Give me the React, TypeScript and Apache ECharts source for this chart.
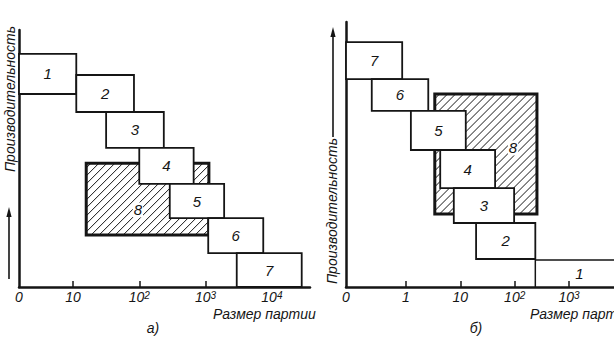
import React, { useEffect, useRef } from "react";
import * as echarts from "echarts";

// ---------- data ----------
// x: position in decades of the batch size (10 -> 1, 10^2 -> 2, ...), y: relative productivity
// Panel а)
const tickPosA = [0.186, 1, 2, 3, 4];
const tickLabelA = ["0", "10", "10{s|2}", "10{s|3}", "10{s|4}"];
const boxNamesA = ["1", "2", "3", "4", "5", "6", "7"];
const boxXA = [
  [0.186, 1.05],
  [1.05, 1.92],
  [1.5, 2.37],
  [2.0, 2.82],
  [2.46, 3.28],
  [3.04, 3.87],
  [3.47, 4.45],
];
const boxYA = [
  [7.51, 9.07],
  [6.81, 8.25],
  [5.41, 6.81],
  [4.01, 5.41],
  [2.68, 4.01],
  [1.32, 2.68],
  [0, 1.32],
];
const zoneXA = [1.2, 3.05];
const zoneYA = [2.02, 4.82];
const zoneLabelA = [1.98, 3.0];

// Panel б)
const tickPosB = [-1.104, 0, 1, 2, 3];
const tickLabelB = ["0", "1", "10", "10{s|2}", "10{s|3}"];
const boxNamesB = ["7", "6", "5", "4", "3", "2"];
const boxXB = [
  [-1.104, -0.07],
  [-0.63, 0.41],
  [0.09, 1.1],
  [0.63, 1.64],
  [0.88, 1.99],
  [1.29, 2.38],
];
const boxYB = [
  [8.09, 9.53],
  [6.85, 8.09],
  [5.33, 6.85],
  [3.85, 5.33],
  [2.49, 3.85],
  [1.09, 2.49],
];
const zoneXB = [0.53, 2.41];
const zoneYB = [2.84, 7.51];
const zoneLabelB = [1.97, 5.41];
const line1X = [2.38, 2.38, 3.83];
const line1Y = [0, 1.05, 1.05];
const line1Label = [3.19, 0.54];

// ---------- styling ----------
const INK = "#151515";
const FONT = "'Liberation Sans', 'DejaVu Sans', sans-serif";

const textStyle = (size: number) => ({
  fill: INK,
  fontSize: size,
  fontStyle: "italic",
  fontFamily: FONT,
  align: "center",
  verticalAlign: "middle",
});

const boxRender = (names: string[]) => (params: any, api: any) => {
  const tl = api.coord([api.value(0), api.value(3)]);
  const br = api.coord([api.value(1), api.value(2)]);
  return {
    type: "group",
    children: [
      {
        type: "rect",
        shape: { x: tl[0], y: tl[1], width: br[0] - tl[0], height: br[1] - tl[1] },
        style: { fill: "#fff", stroke: INK, lineWidth: 1.8 },
      },
      {
        type: "text",
        x: (tl[0] + br[0]) / 2,
        y: (tl[1] + br[1]) / 2,
        style: { text: names[params.dataIndex], ...textStyle(15) },
      },
    ],
  };
};

const zoneRender = (labelPos: number[]) => (params: any, api: any) => {
  const tl = api.coord([api.value(0), api.value(3)]);
  const br = api.coord([api.value(1), api.value(2)]);
  const L = tl[0], T = tl[1], R = br[0], B = br[1];
  const step = 8;
  const lines: any[] = [];
  for (let c = L + T + step * 0.6; c < R + B; c += step) {
    const xs = Math.max(L, c - B);
    const xe = Math.min(R, c - T);
    if (xe <= xs) continue;
    lines.push({
      type: "line",
      shape: { x1: xs, y1: c - xs, x2: xe, y2: c - xe },
      style: { stroke: INK, lineWidth: 1 },
    });
  }
  const lp = api.coord(labelPos);
  return {
    type: "group",
    children: [
      { type: "rect", shape: { x: L, y: T, width: R - L, height: B - T }, style: { fill: "#fff" } },
      ...lines,
      {
        type: "rect",
        shape: { x: L, y: T, width: R - L, height: B - T },
        style: { fill: "none", stroke: INK, lineWidth: 3 },
      },
      {
        type: "text",
        x: lp[0],
        y: lp[1],
        style: { text: "8", ...textStyle(15), backgroundColor: "#fff", padding: [0, 1] },
      },
    ],
  };
};

const makeXAxis = (gridIndex: number, min: number, max: number, pos: number[], labels: string[]) => ({
  type: "value",
  gridIndex,
  min,
  max,
  axisLine: { show: true, onZero: false, lineStyle: { color: INK, width: 2.5 } },
  axisTick: {
    show: true,
    inside: true,
    length: 6,
    customValues: pos.slice(1),
    lineStyle: { color: INK, width: 1.5 },
  },
  axisLabel: {
    customValues: pos,
    margin: 3,
    color: INK,
    fontSize: 14,
    fontStyle: "italic",
    fontFamily: FONT,
    lineHeight: 14,
    rich: {
      s: {
        fontSize: 10,
        fontStyle: "italic",
        fontFamily: FONT,
        color: INK,
        verticalAlign: "top",
        lineHeight: 14,
        padding: [0, 0, 3, 0],
      },
    },
    formatter: (v: number) => {
      const i = pos.findIndex((p) => Math.abs(p - v) < 1e-3);
      return i >= 0 ? labels[i] : "";
    },
  },
  splitLine: { show: false },
});

const makeYAxis = (gridIndex: number, max: number) => ({
  type: "value",
  gridIndex,
  min: 0,
  max,
  axisLine: { show: true, onZero: false, lineStyle: { color: INK, width: 2.5 } },
  axisTick: { show: false },
  axisLabel: { show: false },
  splitLine: { show: false },
});

const plainText = (text: string, x: number, y: number, size: number, align = "left", rotation = 0) => ({
  type: "text",
  x,
  y,
  rotation,
  style: {
    text,
    fill: INK,
    fontSize: size,
    fontStyle: "italic",
    fontFamily: FONT,
    align,
    verticalAlign: "middle",
  },
});

const arrow = (x: number, yBottom: number, yTop: number) => [
  { type: "line", shape: { x1: x, y1: yBottom, x2: x, y2: yTop + 6 }, style: { stroke: INK, lineWidth: 1.6 } },
  {
    type: "polygon",
    shape: { points: [[x, yTop], [x - 2.6, yTop + 10], [x + 2.6, yTop + 10]] },
    style: { fill: INK },
  },
];

export default function App() {
  const ref = useRef<HTMLDivElement>(null);
  useEffect(() => {
    if (!ref.current) return;
    const chart = echarts.init(ref.current, undefined, { renderer: "svg" });
    const zipBoxes = (xs: number[][], ys: number[][]) => xs.map((x, i) => [x[0], x[1], ys[i][0], ys[i][1]]);
    const option: any = {
      animation: false,
      backgroundColor: "#fff",
      grid: [
        { left: 19, top: 30, width: 291, height: 257 },
        { left: 346, top: 22, width: 268, height: 265 },
      ],
      xAxis: [
        makeXAxis(0, 0.186, 4.575, tickPosA, tickLabelA),
        makeXAxis(1, -1.104, 3.828, tickPosB, tickLabelB),
      ],
      yAxis: [makeYAxis(0, 10), makeYAxis(1, 10.31)],
      series: [
        {
          type: "custom",
          xAxisIndex: 0,
          yAxisIndex: 0,
          z: 1,
          renderItem: zoneRender(zoneLabelA),
          encode: { x: [0, 1], y: [2, 3] },
          data: [[zoneXA[0], zoneXA[1], zoneYA[0], zoneYA[1]]],
        },
        {
          type: "custom",
          xAxisIndex: 0,
          yAxisIndex: 0,
          z: 2,
          renderItem: boxRender(boxNamesA),
          encode: { x: [0, 1], y: [2, 3] },
          data: zipBoxes(boxXA, boxYA),
        },
        {
          type: "custom",
          xAxisIndex: 1,
          yAxisIndex: 1,
          z: 1,
          renderItem: zoneRender(zoneLabelB),
          encode: { x: [0, 1], y: [2, 3] },
          data: [[zoneXB[0], zoneXB[1], zoneYB[0], zoneYB[1]]],
        },
        {
          type: "custom",
          xAxisIndex: 1,
          yAxisIndex: 1,
          z: 2,
          renderItem: boxRender(boxNamesB),
          encode: { x: [0, 1], y: [2, 3] },
          data: zipBoxes(boxXB, boxYB),
        },
        {
          type: "line",
          xAxisIndex: 1,
          yAxisIndex: 1,
          z: 3,
          symbol: "none",
          lineStyle: { color: INK, width: 1.5 },
          data: line1X.map((x, i) => [x, line1Y[i]]),
        },
        {
          type: "custom",
          xAxisIndex: 1,
          yAxisIndex: 1,
          z: 3,
          renderItem: (params: any, api: any) => {
            const p = api.coord([api.value(0), api.value(1)]);
            return { type: "text", x: p[0], y: p[1], style: { text: "1", ...textStyle(15) } };
          },
          data: [line1Label],
        },
      ],
      graphic: [
        plainText("Производительность", 10, 99, 14, "center", Math.PI / 2),
        ...arrow(9, 279, 207),
        plainText("Размер партии", 213, 314, 14),
        plainText("а)", 153, 328, 14, "center"),
        plainText("Производительность", 332, 211, 14, "center", Math.PI / 2),
        ...arrow(333, 137, 27),
        plainText("Размер партии", 530, 314, 14),
        plainText("б)", 476, 328, 14, "center"),
      ],
    };
    chart.setOption(option);
    return () => chart.dispose();
  }, []);
  return (
    <div
      ref={ref}
      style={{ position: "absolute", left: 0, top: 0, width: 614, height: 364, overflow: "hidden" }}
    />
  );
}
